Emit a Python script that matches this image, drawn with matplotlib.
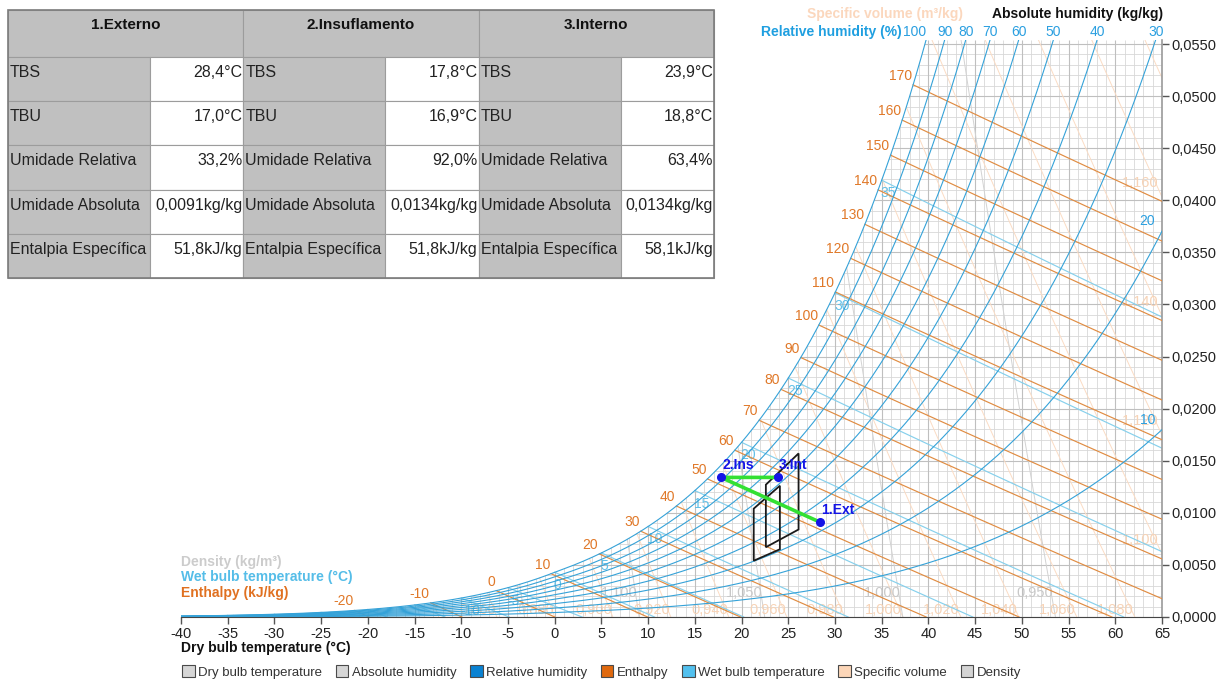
import numpy as np
import matplotlib.pyplot as plt
from matplotlib.patches import Polygon, Rectangle, Patch
from matplotlib.ticker import FuncFormatter, MultipleLocator

plt.rcParams['font.family'] = ['Liberation Sans', 'DejaVu Sans']
plt.rcParams['axes.unicode_minus'] = False

FIG_W, FIG_H = 1217, 679
P_ATM = 89.1  # kPa, local pressure used for the whole chart
T_MIN, T_MAX = -40, 65
W_TOP = 0.0554

# line families of the chart
rh_levels = [100, 90, 80, 70, 60, 50, 40, 30, 20, 10]
enthalpy_levels = [-20, -10, 0, 10, 20, 30, 40, 50, 60, 70, 80, 90, 100,
                   110, 120, 130, 140, 150, 160, 170]
wet_bulb_levels = [-40, -35, -30, -25, -20, -15, -10, -5, 0, 5, 10, 15, 20, 25, 30, 35]
volume_levels = [0.76, 0.78, 0.80, 0.82, 0.84, 0.86, 0.88, 0.90, 0.92, 0.94, 0.96,
                 0.98, 1.00, 1.02, 1.04, 1.06, 1.08, 1.10, 1.12, 1.14, 1.16, 1.18]
density_levels = [0.95, 1.00, 1.05, 1.10, 1.15, 1.20, 1.25, 1.30]

# states of the air handling process
state_names = ["1.Externo", "2.Insuflamento", "3.Interno"]
state_tags = ["1.Ext", "2.Ins", "3.Int"]
tbs = [28.4, 17.8, 23.9]
tbu = [17.0, 16.9, 18.8]
ur = [33.2, 92.0, 63.4]
ua = [0.0091, 0.0134, 0.0134]
h_esp = [51.8, 51.8, 58.1]

# comfort zones
zone_a_t = [21.3, 21.3, 24.1, 24.1]
zone_a_w = [0.0104, 0.0054, 0.0065, 0.0126]
zone_b_t = [22.6, 22.6, 26.1, 26.1]
zone_b_w = [0.0127, 0.0067, 0.0084, 0.0157]

RH_COLOR = '#35a2d8'
WB_COLOR = '#86d0ec'
H_COLOR = '#e08c42'
V_COLOR = '#fbdcc4'
RHO_COLOR = '#d2d2d2'


def sat_pressure(t):
    tk = np.asarray(t, dtype=float) + 273.15
    ln_ice = (-5.6745359e3 / tk + 6.3925247 - 9.677843e-3 * tk + 6.2215701e-7 * tk**2
              + 2.0747825e-9 * tk**3 - 9.484024e-13 * tk**4 + 4.1635019 * np.log(tk))
    ln_water = (-5.8002206e3 / tk + 1.3914993 - 4.8640239e-2 * tk + 4.1764768e-5 * tk**2
                - 1.4452093e-8 * tk**3 + 6.5459673 * np.log(tk))
    return np.exp(np.where(tk < 273.15, ln_ice, ln_water)) / 1000.0


def humidity_ratio(t, rh):
    pv = rh / 100.0 * sat_pressure(t)
    return 0.621945 * pv / (P_ATM - pv)


def wet_bulb_w(t, twb):
    ws = humidity_ratio(twb, 100)
    if twb >= 0:
        return ((2501 - 2.326 * twb) * ws - 1.006 * (t - twb)) / (2501 + 1.86 * t - 4.186 * twb)
    return ((2830 - 0.24 * twb) * ws - 1.006 * (t - twb)) / (2830 + 1.86 * t - 2.1 * twb)


def enthalpy_w(t, h):
    return (h - 1.006 * t) / (2501 + 1.86 * t)


def volume_w(t, v):
    return (v * P_ATM / (0.287042 * (t + 273.15)) - 1) / 1.607858


def volume_t(w, v):
    return v * P_ATM / (0.287042 * (1 + 1.607858 * w)) - 273.15


def density_w(t, rho):
    a = rho * 0.287042 * (t + 273.15)
    return (P_ATM - a) / (1.607858 * a - P_ATM)


def density_t(w, rho):
    return (1 + w) * P_ATM / (0.287042 * rho * (1 + 1.607858 * w)) - 273.15


def saturation_crossing(w_line):
    # bisection on the point where a line meets the saturation curve
    lo, hi = -60.0, 80.0
    for _ in range(60):
        mid = 0.5 * (lo + hi)
        if humidity_ratio(mid, 100) < w_line(mid):
            lo = mid
        else:
            hi = mid
    return 0.5 * (lo + hi)


def comma(value, digits):
    return f"{value:.{digits}f}".replace('.', ',')


def px(x, y):
    return x / FIG_W, 1 - y / FIG_H


def draw_grid(ax, clip):
    minor_t = [t for t in range(T_MIN, T_MAX + 1) if t % 5]
    major_t = [t for t in range(T_MIN, T_MAX + 1) if t % 5 == 0]
    minor_w = [i / 1000 for i in range(0, 56) if i % 5]
    major_w = [i / 1000 for i in range(0, 56) if i % 5 == 0]
    for lines in (ax.vlines(minor_t, 0, W_TOP, color='#d8d8d8', lw=0.6, zorder=0.5),
                  ax.hlines(minor_w, T_MIN, T_MAX, color='#d8d8d8', lw=0.6, zorder=0.5),
                  ax.vlines(major_t, 0, W_TOP, color='#bfbfbf', lw=0.8, zorder=0.6),
                  ax.hlines(major_w, T_MIN, T_MAX, color='#bfbfbf', lw=0.8, zorder=0.6)):
        lines.set_clip_path(clip)


def draw_volume_density(ax):
    for v in volume_levels:
        t_start = max(T_MIN, saturation_crossing(lambda t: volume_w(t, v)))
        t_end = min(T_MAX, volume_t(0, v))
        t = np.linspace(t_start, t_end, 60)
        ax.plot(t, volume_w(t, v), color=V_COLOR, lw=0.7, zorder=1)
        if volume_t(0, v) <= T_MAX:
            if v >= 0.86:
                w_lab = 0.0007
                ax.annotate(comma(v, 3), (volume_t(w_lab, v), w_lab), xytext=(2, 0),
                            textcoords='offset pixels', ha='right', va='center',
                            fontsize=10.5, color='#f7d3b6', zorder=1.5)
        else:
            w_end = volume_w(T_MAX, v)
            if w_end < 0.05:
                w_lab = w_end + 0.0013
                ax.annotate(comma(v, 3), (volume_t(w_lab, v), w_lab), xytext=(3, 0),
                            textcoords='offset pixels', ha='right', va='center',
                            fontsize=10.5, color='#f7d3b6', zorder=1.5)

    for rho in density_levels:
        t_start = max(T_MIN, saturation_crossing(lambda t: density_w(t, rho)))
        t_end = min(T_MAX, density_t(0, rho))
        t = np.linspace(t_start, t_end, 60)
        ax.plot(t, density_w(t, rho), color=RHO_COLOR, lw=0.7, zorder=1)
        if rho <= 1.10:
            w_lab = 0.0023
            ax.annotate(comma(rho, 3), (density_t(w_lab, rho), w_lab), xytext=(2, 0),
                        textcoords='offset pixels', ha='right', va='center',
                        fontsize=10.5, color='#c8c8c8', zorder=1.5)


def draw_wet_bulb(ax):
    for twb in wet_bulb_levels:
        ws = humidity_ratio(twb, 100)
        if twb >= 0:
            t_zero = twb + (2501 - 2.326 * twb) * ws / 1.006
        else:
            t_zero = twb + (2830 - 0.24 * twb) * ws / 1.006
        t = np.linspace(twb, min(T_MAX, t_zero), 60)
        ax.plot(t, np.maximum(wet_bulb_w(t, twb), 0), color=WB_COLOR, lw=0.85, zorder=2)
        if twb >= -10:
            ax.annotate(str(twb), (twb, ws), xytext=(-1, -6), textcoords='offset pixels',
                        ha='left', va='top', fontsize=10, color='#62c0e8', zorder=2.5)


def draw_enthalpy(ax):
    for h in enthalpy_levels:
        t_start = saturation_crossing(lambda t: enthalpy_w(t, h))
        t_end = min(T_MAX, h / 1.006)
        t = np.linspace(t_start, t_end, 40)
        ax.plot(t, enthalpy_w(t, h), color=H_COLOR, lw=0.85, zorder=3)
        ax.annotate(str(h), (t_start, enthalpy_w(t_start, h)), xytext=(-1, 2),
                    textcoords='offset pixels', ha='right', va='bottom',
                    fontsize=10, color='#e07828', zorder=3.5)


def draw_relative_humidity(ax, t_grid):
    for rh in rh_levels:
        w = humidity_ratio(t_grid, rh)
        ax.plot(t_grid, w, color=RH_COLOR, lw=0.8, zorder=4)
        w_end = humidity_ratio(T_MAX, rh)
        if w_end > W_TOP:
            lo, hi = T_MIN, T_MAX
            for _ in range(50):
                mid = 0.5 * (lo + hi)
                if humidity_ratio(mid, rh) < W_TOP:
                    lo = mid
                else:
                    hi = mid
            ax.annotate(str(rh), (lo, W_TOP), xytext=(0, 8), textcoords='offset pixels',
                        ha='right' if rh == 100 else 'center', va='center',
                        fontsize=10, color='#2a9fe0', annotation_clip=False)
        else:
            ax.annotate(str(rh), (T_MAX, w_end), xytext=(-7, 3), textcoords='offset pixels',
                        ha='right', va='bottom', fontsize=10, color='#2a9fe0')


def draw_process(ax):
    for zt, zw in ((zone_a_t, zone_a_w), (zone_b_t, zone_b_w)):
        ax.add_patch(Polygon(list(zip(zt, zw)), closed=True, fill=False,
                             ec='#1a1a1a', lw=1.3, zorder=6))
    ax.plot(tbs, ua, color='#33e033', lw=2.6, zorder=7, solid_capstyle='round')
    ax.plot(tbs, ua, 'o', color='#1414e6', ms=5.5, zorder=8)
    for tag, t, w in zip(state_tags, tbs, ua):
        ax.annotate(tag, (t, w), xytext=(1, 5), textcoords='offset pixels',
                    ha='left', va='bottom', fontsize=10, fontweight='bold',
                    color='#1414e6', zorder=8)


def draw_chart(fig):
    left, bottom = px(181, 617)
    right, top = px(1162, 617 - W_TOP * 10418)
    ax = fig.add_axes([left, bottom, right - left, top - bottom])
    ax.set_xlim(T_MIN, T_MAX)
    ax.set_ylim(0, W_TOP)

    t_grid = np.linspace(T_MIN, T_MAX, 800)
    w_sat = np.minimum(humidity_ratio(t_grid, 100), W_TOP)
    clip = Polygon(np.column_stack([np.r_[t_grid, T_MAX, T_MIN], np.r_[w_sat, 0, 0]]),
                   closed=True, transform=ax.transData)

    draw_grid(ax, clip)
    draw_volume_density(ax)
    draw_wet_bulb(ax)
    draw_enthalpy(ax)
    draw_relative_humidity(ax, t_grid)
    draw_process(ax)

    for side in ('left', 'top'):
        ax.spines[side].set_visible(False)
    ax.spines['bottom'].set_color('#444444')
    ax.spines['right'].set_color('#9a9a9a')
    ax.spines['right'].set_linewidth(1.2)
    ax.yaxis.tick_right()
    ax.xaxis.set_major_locator(MultipleLocator(5))
    ax.yaxis.set_major_locator(MultipleLocator(0.005))
    ax.yaxis.set_major_formatter(FuncFormatter(lambda v, _: comma(v, 4)))
    ax.tick_params(axis='both', length=5, width=1, color='#555555', labelsize=10.5,
                   labelcolor='#222222', pad=2)

    fig.text(*px(181, 648), "Dry bulb temperature (°C)", fontsize=10, fontweight='bold',
             color='#111111', va='center')
    fig.text(*px(1163, 14), "Absolute humidity (kg/kg)", fontsize=10, fontweight='bold',
             color='#111111', va='center', ha='right')
    fig.text(*px(963, 14), "Specific volume (m³/kg)", fontsize=10, fontweight='bold',
             color='#fbd7bd', va='center', ha='right')
    fig.text(*px(902, 32), "Relative humidity (%)", fontsize=10, fontweight='bold',
             color='#1f9fe0', va='center', ha='right')
    fig.text(*px(181, 562), "Density (kg/m³)", fontsize=10, fontweight='bold',
             color='#cccccc', va='center')
    fig.text(*px(181, 577), "Wet bulb temperature (°C)", fontsize=10, fontweight='bold',
             color='#55bde8', va='center')
    fig.text(*px(181, 593), "Enthalpy (kJ/kg)", fontsize=10, fontweight='bold',
             color='#e07020', va='center')


def draw_legend(fig):
    items = [("Dry bulb temperature", '#d6d6d6'), ("Absolute humidity", '#d6d6d6'),
             ("Relative humidity", '#0a82d2'), ("Enthalpy", '#e0690e'),
             ("Wet bulb temperature", '#52c0ee'), ("Specific volume", '#fcd6b8'),
             ("Density", '#d4d4d4')]
    handles = [Patch(facecolor=c, edgecolor='#4a4a4a', lw=0.8) for _, c in items]
    fig.legend(handles, [n for n, _ in items], loc='center left', ncol=7,
               bbox_to_anchor=px(182, 672), frameon=False, fontsize=9.5,
               handlelength=0.95, handleheight=0.95, handletextpad=0.25,
               columnspacing=1.05, labelcolor='#333333', borderpad=0, borderaxespad=0)


def table_rows():
    return [("TBS", [comma(v, 1) + "°C" for v in tbs]),
            ("TBU", [comma(v, 1) + "°C" for v in tbu]),
            ("Umidade Relativa", [comma(v, 1) + "%" for v in ur]),
            ("Umidade Absoluta", [comma(v, 4) + "kg/kg" for v in ua]),
            ("Entalpia Específica", [comma(v, 1) + "kJ/kg" for v in h_esp])]


def draw_table(fig):
    ax = fig.add_axes([0, 0, 1, 1], zorder=5)
    ax.set_xlim(0, FIG_W)
    ax.set_ylim(FIG_H, 0)
    ax.axis('off')
    x0, y0 = 8, 10
    group_w, label_w = 235.3, 142
    head_h, row_h = 47, 44.2
    gray, edge = '#c0c0c0', '#9c9c9c'
    for g in range(3):
        gx = x0 + g * group_w
        ax.add_patch(Rectangle((gx, y0), group_w, head_h, fc=gray, ec=edge, lw=0.8))
        ax.text(gx + group_w / 2, y0 + 15, state_names[g], ha='center', va='center',
                fontsize=11, fontweight='bold', color='#111111')
        for r, (label, values) in enumerate(table_rows()):
            ry = y0 + head_h + r * row_h
            ax.add_patch(Rectangle((gx, ry), label_w, row_h, fc=gray, ec=edge, lw=0.8))
            ax.add_patch(Rectangle((gx + label_w, ry), group_w - label_w, row_h,
                                   fc='white', ec=edge, lw=0.8))
            ax.text(gx + 2, ry + 15.5, label, ha='left', va='center', fontsize=11.5,
                    color='#222222')
            ax.text(gx + group_w - 1, ry + 15.5, values[g], ha='right', va='center',
                    fontsize=11.5, color='#222222')
    ax.add_patch(Rectangle((x0, y0), 3 * group_w, head_h + 5 * row_h, fill=False,
                           ec='#7c7c7c', lw=1.2))


def main():
    fig = plt.figure(figsize=(FIG_W / 100, FIG_H / 100), dpi=100)
    draw_chart(fig)
    draw_legend(fig)
    draw_table(fig)
    fig.savefig("out.png", dpi=100)


if __name__ == "__main__":
    main()
